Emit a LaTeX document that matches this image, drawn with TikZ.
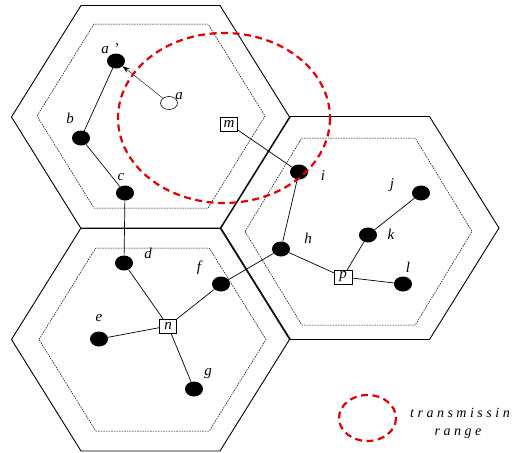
\documentclass[tikz,border=0pt]{standalone}
\usepackage{fontspec}
\setmainfont{Liberation Serif}
\usetikzlibrary{shapes.geometric,arrows.meta}
\newcommand\myhexagon[5]{%
  \draw[#5] (#1-#3,#2) -- (#1-#3/2,#2-#4) -- (#1+#3/2,#2-#4) -- (#1+#3,#2)
    -- (#1+#3/2,#2+#4) -- (#1-#3/2,#2+#4) -- cycle;}
\tikzset{
  outerhex/.style={line width=0.9pt,black},
  innerhex/.style={line width=0.5pt,black,dash pattern=on 1.6pt off 1pt},
  blk/.style={ellipse,fill=black,minimum width=18pt,minimum height=15pt,inner sep=0pt},
  wht/.style={ellipse,draw=black,line width=0.6pt,fill=white,minimum width=17pt,minimum height=13pt,inner sep=0pt},
  bx/.style={rectangle,draw=black,line width=0.6pt,fill=white,minimum width=17pt,minimum height=14pt,inner sep=0pt,font=\fontsize{15}{15}\selectfont\itshape},
  lbl/.style={inner sep=0pt,font=\fontsize{15}{15}\selectfont\itshape},
  link/.style={line width=0.7pt,black},
  rangecirc/.style={draw=red!90!black,line width=2.2pt,dash pattern=on 7pt off 4.5pt},
}
\begin{document}
\begin{tikzpicture}[x=1pt,y=-1pt]
\useasboundingbox (0,0) rectangle (512,453);
% hexagons
\myhexagon{150.5}{117}{139}{111.5}{outerhex}
\myhexagon{150.5}{339.5}{139}{111.5}{outerhex}
\myhexagon{360}{228}{139}{111.5}{outerhex}
\myhexagon{151}{116}{114}{92}{innerhex}
\myhexagon{152.5}{339.5}{113.5}{91.5}{innerhex}
\myhexagon{358.5}{231.5}{113.5}{93.5}{innerhex}
% nodes
\node[blk] (ap) at (116,61) {};
\node[wht] (a) at (169,103) {};
\node[blk] (b) at (81,138) {};
\node[blk] (c) at (125,193) {};
\node[blk] (i) at (299,172) {};
\node[blk] (j) at (421,193) {};
\node[blk] (k) at (368,235) {};
\node[blk] (h) at (281,249) {};
\node[blk] (l) at (403,284) {};
\node[blk] (d) at (124,263) {};
\node[blk] (f) at (221,284) {};
\node[blk] (e) at (99,339) {};
\node[blk] (g) at (194,389) {};
\coordinate (mc) at (229,124);
\coordinate (pc) at (343,277);
\coordinate (nc) at (168,326);
\draw[link] (ap) -- (b);
\draw[link] (b) -- (c);
\draw[link] (c) -- (d);
\draw[link] (d) -- (nc);
\draw[link] (e) -- (nc);
\draw[link] (f) -- (nc);
\draw[link] (g) -- (nc);
\draw[link] (f) -- (h);
\draw[link] (h) -- (i);
\draw[link] (i) -- (mc);
\draw[link] (h) -- (pc);
\draw[link] (pc) -- (k);
\draw[link] (k) -- (j);
\draw[link] (pc) -- (l);
\draw[line width=0.4pt,-{Stealth[length=7pt,width=5pt]}] (a) -- (ap);
\node[bx] (m) at (mc) {m};
\node[bx,minimum width=18pt] (p) at (pc) {p};
\node[bx] (n) at (nc) {n};
% labels
\node[lbl] (lap) at (110,49) {a\hspace{5pt}'};
\node[lbl] (la) at (179,96) {a};
\node[lbl] (lb) at (70,118) {b};
\node[lbl] (lc) at (121,177) {c};
\node[lbl] (li) at (323,176) {i};
\node[lbl] (lj) at (392,185) {j};
\node[lbl] (lk) at (391,234) {k};
\node[lbl] (lh) at (308,238) {h};
\node[lbl] (ll) at (408,267) {l};
\node[lbl] (ld) at (148,253) {d};
\node[lbl] (lf) at (199,268) {f};
\node[lbl] (le) at (99,318) {e};
\node[lbl] (lg) at (208,374) {g};
% transmission range
\draw[rangecirc] (224,118) ellipse [x radius=106, y radius=85];
\draw[rangecirc] (367.5,418) ellipse [x radius=28.5, y radius=23];
\node[lbl,anchor=west,font=\fontsize{14}{14}\selectfont\itshape] (t1) at (410,413) {\addfontfeature{LetterSpace=25}transmissin};
\node[lbl,font=\fontsize{14}{14}\selectfont\itshape] (t2) at (458,434) {\addfontfeature{LetterSpace=25}range};
\end{tikzpicture}
\end{document}
